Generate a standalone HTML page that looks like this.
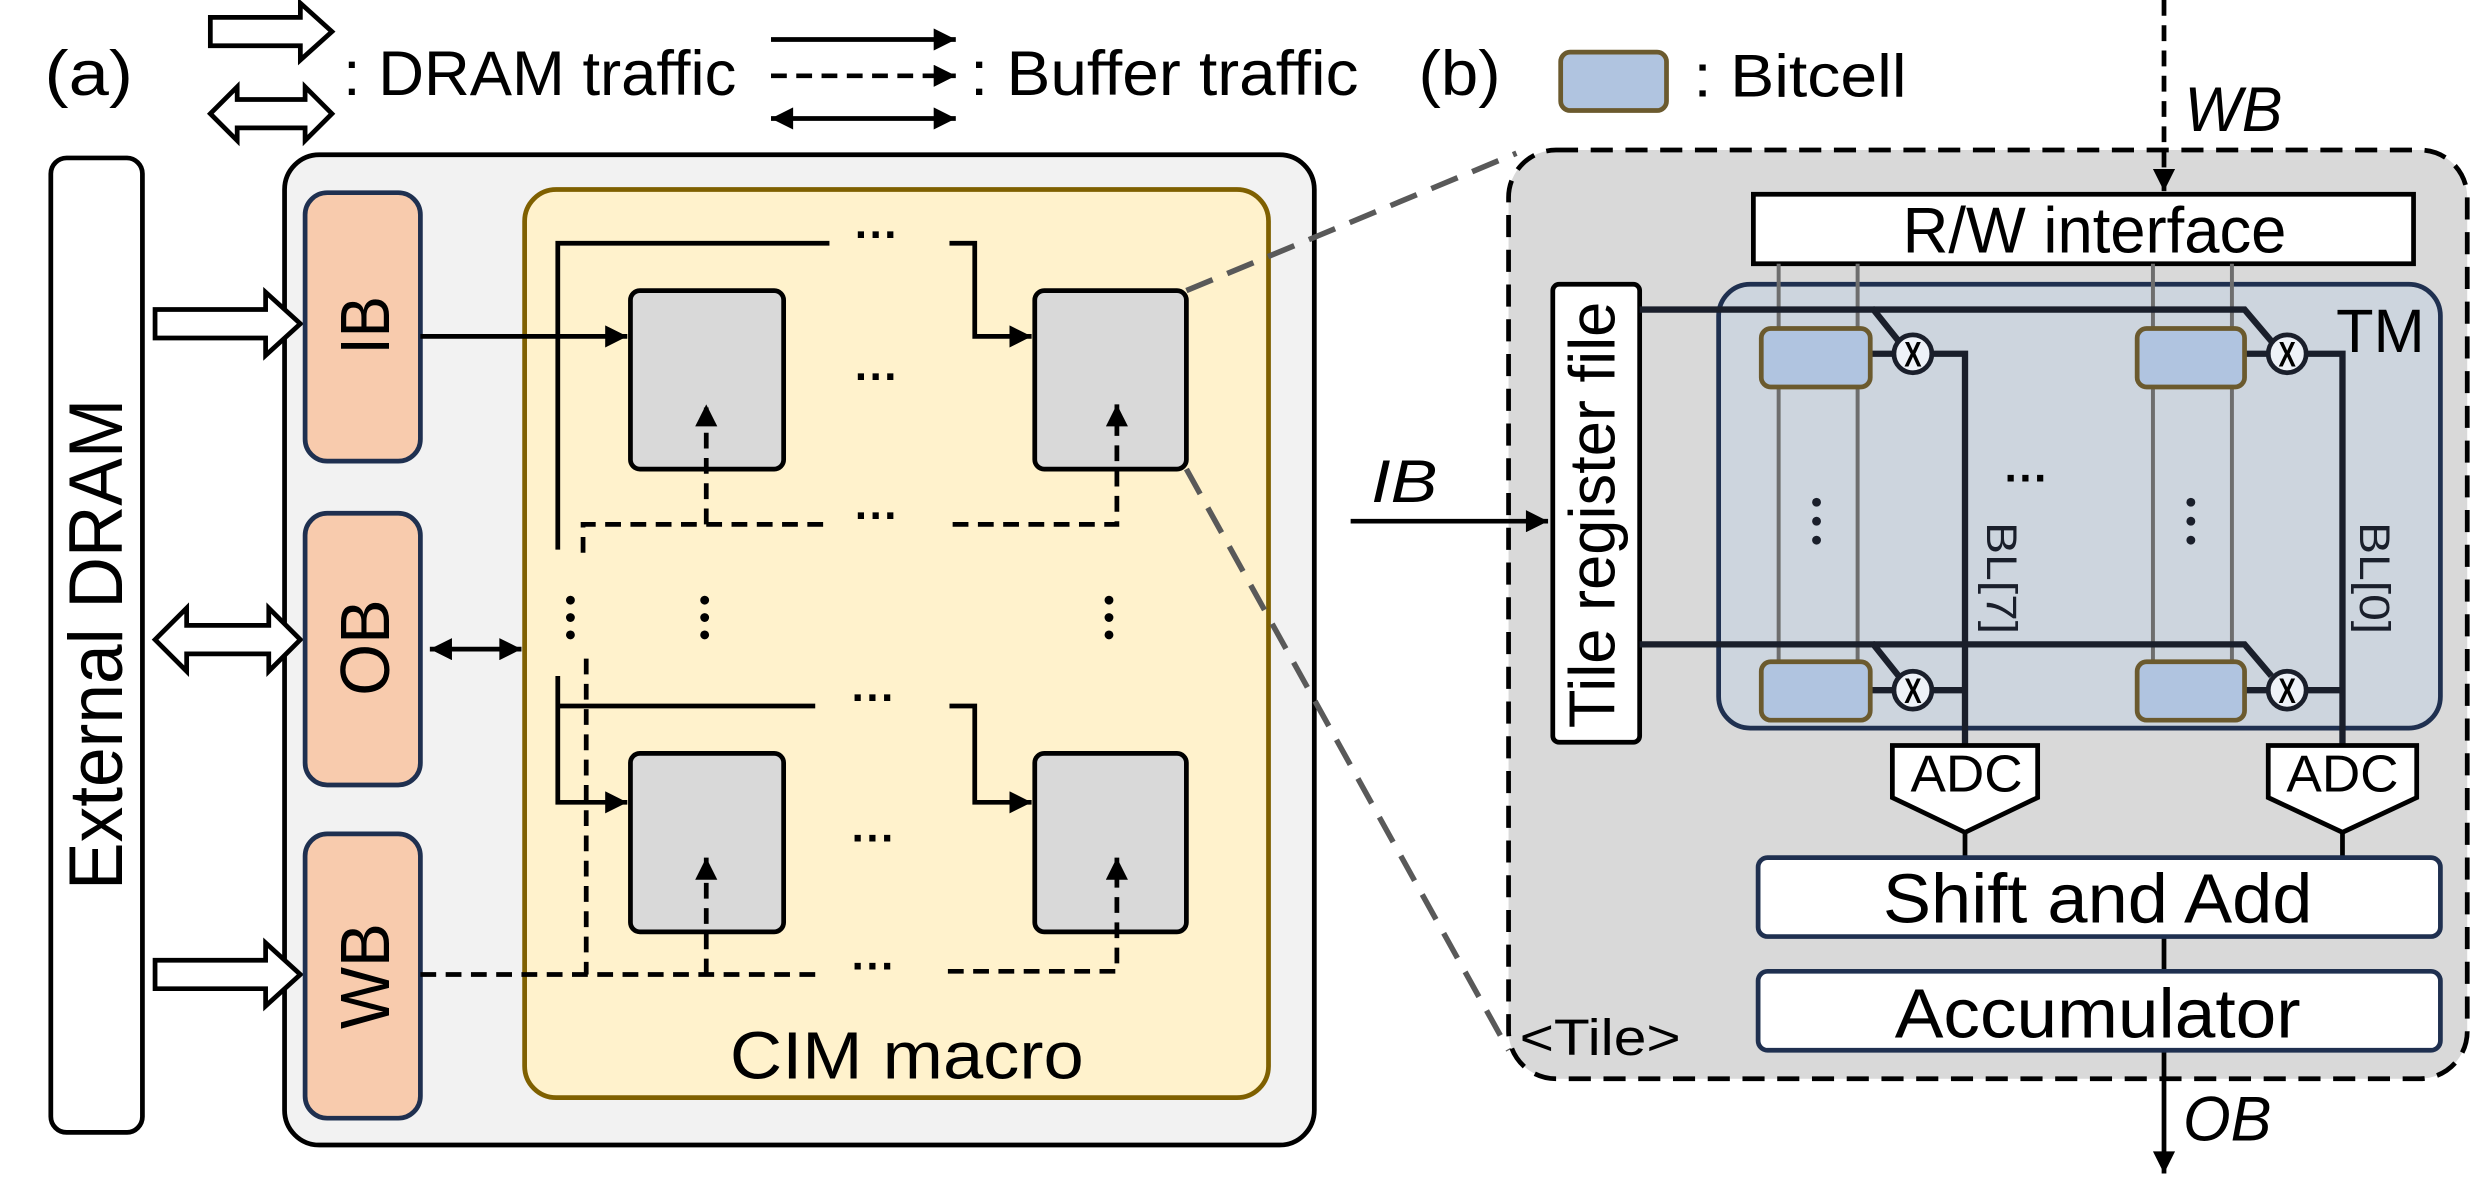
<!DOCTYPE html>
<html><head><meta charset="utf-8"><style>html,body{margin:0;padding:0;background:#fff}svg{display:block}</style></head>
<body>
<svg width="2477" height="1194" viewBox="0 0 1568 756" xmlns="http://www.w3.org/2000/svg" font-family="Liberation Sans, sans-serif">
<defs>
<marker id="ah" viewBox="0 0 10 10" refX="10" refY="5" markerWidth="16" markerHeight="14" markerUnits="userSpaceOnUse" orient="auto-start-reverse"><path d="M0,0 L10,5 L0,10 Z" fill="#000"/></marker>
</defs>
<rect width="1568" height="756" fill="#fff"/>
<text x="28" y="60" font-size="40" textLength="56" lengthAdjust="spacingAndGlyphs">(a)</text>
<g fill="#fff" stroke="#000" stroke-width="3">
<path d="M133,11 L190,11 L190,2 L210,20 L190,38 L190,29 L133,29Z"/>
<path d="M133,72 L150,55 L150,63 L193,63 L193,55 L210,72 L193,89 L193,81 L150,81 L150,89 Z"/>
</g>
<text x="217" y="60" font-size="40" textLength="249" lengthAdjust="spacingAndGlyphs">: DRAM traffic</text>
<g stroke="#000" stroke-width="3">
<line x1="488" y1="25" x2="605" y2="25" marker-end="url(#ah)"/>
<line x1="488" y1="48" x2="605" y2="48" stroke-dasharray="10,6" marker-end="url(#ah)"/>
<line x1="488" y1="75" x2="605" y2="75" marker-start="url(#ah)" marker-end="url(#ah)"/>
</g>
<text x="614" y="60" font-size="40" textLength="246" lengthAdjust="spacingAndGlyphs">: Buffer traffic</text>
<text x="898" y="60" font-size="40" textLength="52" lengthAdjust="spacingAndGlyphs">(b)</text>
<rect x="988" y="33" width="67" height="37" rx="6" fill="#b0c4e0" stroke="#6b5a2e" stroke-width="3"/>
<text x="1072" y="61" font-size="38" textLength="135" lengthAdjust="spacingAndGlyphs">: Bitcell</text>

<rect x="32" y="100" width="58" height="617" rx="10" fill="#fff" stroke="#000" stroke-width="3"/>
<text transform="translate(77,408) rotate(-90)" text-anchor="middle" font-size="48" textLength="311" lengthAdjust="spacingAndGlyphs">External DRAM</text>

<rect x="180" y="98" width="652" height="627" rx="22" fill="#f2f2f2" stroke="#000" stroke-width="3"/>
<g fill="#fff" stroke="#000" stroke-width="3">
<path d="M98,196 L168,196 L168,185 L190,205 L168,225 L168,214 L98,214Z"/>
<path d="M98,405 L118,385 L118,396 L170,396 L170,385 L190,405 L170,425 L170,414 L118,414 L118,425Z"/>
<path d="M98,608 L168,608 L168,597 L190,617 L168,637 L168,626 L98,626Z"/>
</g>
<g fill="#f8cbad" stroke="#1f3050" stroke-width="3">
<rect x="193" y="122" width="73" height="170" rx="14"/>
<rect x="193" y="325" width="73" height="172" rx="14"/>
<rect x="193" y="528" width="73" height="180" rx="14"/>
</g>
<g font-size="44" text-anchor="middle">
<text transform="translate(246,206) rotate(-90)" textLength="37" lengthAdjust="spacingAndGlyphs">IB</text>
<text transform="translate(246,410) rotate(-90)" textLength="61" lengthAdjust="spacingAndGlyphs">OB</text>
<text transform="translate(246,618) rotate(-90)" textLength="67" lengthAdjust="spacingAndGlyphs">WB</text>
</g>

<rect x="332" y="120" width="471" height="575" rx="20" fill="#fff2cc" stroke="#7f6000" stroke-width="3"/>
<text x="574" y="683" font-size="42" text-anchor="middle" textLength="224" lengthAdjust="spacingAndGlyphs">CIM macro</text>
<g fill="#d9d9d9" stroke="#000" stroke-width="3">
<rect x="399" y="184" width="97" height="113" rx="6"/>
<rect x="655" y="184" width="96" height="113" rx="6"/>
<rect x="399" y="477" width="97" height="113" rx="6"/>
<rect x="655" y="477" width="96" height="113" rx="6"/>
</g>
<g stroke="#000" stroke-width="3" fill="none">
<line x1="266" y1="213" x2="397" y2="213" marker-end="url(#ah)"/>
<polyline points="353,348 353,154 525,154"/>
<polyline points="601,154 617,154 617,213 653,213" marker-end="url(#ah)"/>
<polyline points="353,428 353,508 397,508" marker-end="url(#ah)"/>
<line x1="353" y1="447" x2="516" y2="447"/>
<polyline points="601,447 617,447 617,508 653,508" marker-end="url(#ah)"/>
<line x1="272" y1="411" x2="330" y2="411" marker-start="url(#ah)" marker-end="url(#ah)"/>
</g>
<g stroke="#000" stroke-width="3" fill="none" stroke-dasharray="10,6">
<polyline points="369,350 369,332 526,332"/>
<polyline points="447,332 447,256" marker-end="url(#ah)"/>
<polyline points="603,332 707,332 707,256" marker-end="url(#ah)"/>
<polyline points="371,417 371,617"/>
<line x1="266" y1="617" x2="522" y2="617"/>
<polyline points="447,617 447,543" marker-end="url(#ah)"/>
<polyline points="600,615 707,615 707,543" marker-end="url(#ah)"/>
</g>
<g font-size="28" font-weight="bold" text-anchor="middle">
<text x="555" y="158">···</text><text x="555" y="248">···</text>
<text x="555" y="336">···</text><text x="553" y="451">···</text>
<text x="553" y="540">···</text><text x="553" y="621">···</text>
</g>
<g fill="#000">
<circle cx="361" cy="380" r="2.8"/><circle cx="361" cy="391" r="2.8"/><circle cx="361" cy="402" r="2.8"/>
<circle cx="446" cy="380" r="2.8"/><circle cx="446" cy="391" r="2.8"/><circle cx="446" cy="402" r="2.8"/>
<circle cx="702" cy="380" r="2.8"/><circle cx="702" cy="391" r="2.8"/><circle cx="702" cy="402" r="2.8"/>
</g>
<g stroke="#595959" stroke-width="3.5" stroke-dasharray="18,10" fill="none">
<line x1="751" y1="184" x2="960" y2="97"/>
<line x1="751" y1="297" x2="955" y2="665"/>
</g>

<rect x="955" y="95" width="607" height="588" rx="30" fill="#d9d9d9" stroke="#000" stroke-width="3" stroke-dasharray="14,8"/>
<text x="962" y="668" font-size="32" textLength="102" lengthAdjust="spacingAndGlyphs">&lt;Tile&gt;</text>
<line x1="1370" y1="0" x2="1370" y2="121" stroke="#000" stroke-width="3" stroke-dasharray="10,6" marker-end="url(#ah)"/>
<text x="1383" y="83" font-size="40" font-style="italic" textLength="62" lengthAdjust="spacingAndGlyphs">WB</text>
<rect x="1110" y="123" width="418" height="44" fill="#fff" stroke="#000" stroke-width="3"/>
<text x="1326" y="160" font-size="41" text-anchor="middle" textLength="243" lengthAdjust="spacingAndGlyphs">R/W interface</text>
<line x1="855" y1="330" x2="980" y2="330" stroke="#000" stroke-width="3" marker-end="url(#ah)"/>
<text x="868" y="318" font-size="38" font-style="italic" textLength="42" lengthAdjust="spacingAndGlyphs">IB</text>
<rect x="1088" y="180" width="457" height="281" rx="20" fill="#cdd5de" stroke="#1f3050" stroke-width="3"/>
<text x="1479" y="223" font-size="39" textLength="56" lengthAdjust="spacingAndGlyphs">TM</text>
<g stroke="#6e6e6e" stroke-width="2.5">
<line x1="1126" y1="167" x2="1126" y2="456"/><line x1="1176" y1="167" x2="1176" y2="456"/>
<line x1="1363" y1="167" x2="1363" y2="456"/><line x1="1413" y1="167" x2="1413" y2="456"/>
</g>
<rect x="983" y="180" width="55" height="290" rx="4" fill="#fff" stroke="#000" stroke-width="3"/>
<text transform="translate(1022,326) rotate(-90)" font-size="41" text-anchor="middle" textLength="270" lengthAdjust="spacingAndGlyphs">Tile register file</text>
<g stroke="#1a1f2b" stroke-width="4" fill="none">
<polyline points="1038,196 1186,196 1202,216"/>
<polyline points="1186,196 1421,196 1438,216"/>
<polyline points="1038,408 1186,408 1202,428"/>
<polyline points="1186,408 1421,408 1438,428"/>
<line x1="1184" y1="224" x2="1200" y2="224"/><line x1="1421" y1="224" x2="1436" y2="224"/>
<line x1="1184" y1="437" x2="1200" y2="437"/><line x1="1421" y1="437" x2="1436" y2="437"/>
<polyline points="1222,224 1244,224 1244,472"/><line x1="1222" y1="437" x2="1244" y2="437"/>
<polyline points="1460,224 1483,224 1483,472"/><line x1="1460" y1="437" x2="1483" y2="437"/>
</g>
<g fill="#b0c4e0" stroke="#6b5a2e" stroke-width="3">
<rect x="1115" y="208" width="69" height="37" rx="6"/><rect x="1353" y="208" width="68" height="37" rx="6"/>
<rect x="1115" y="419" width="69" height="37" rx="6"/><rect x="1353" y="419" width="68" height="37" rx="6"/>
</g>
<g fill="#eef2f8" stroke="#1a1f2b" stroke-width="3">
<circle cx="1211" cy="224" r="12"/><circle cx="1448" cy="224" r="12"/>
<circle cx="1211" cy="437" r="12"/><circle cx="1448" cy="437" r="12"/>
</g>
<g font-size="22" font-weight="bold" text-anchor="middle">
<text x="1211" y="232" textLength="11" lengthAdjust="spacingAndGlyphs">X</text><text x="1448" y="232" textLength="11" lengthAdjust="spacingAndGlyphs">X</text>
<text x="1211" y="445" textLength="11" lengthAdjust="spacingAndGlyphs">X</text><text x="1448" y="445" textLength="11" lengthAdjust="spacingAndGlyphs">X</text>
</g>
<text x="1283" y="312" font-size="28" font-weight="bold" text-anchor="middle">···</text>
<g fill="#1a1f2b">
<circle cx="1150" cy="318" r="2.8"/><circle cx="1150" cy="330" r="2.8"/><circle cx="1150" cy="342" r="2.8"/>
<circle cx="1387" cy="318" r="2.8"/><circle cx="1387" cy="330" r="2.8"/><circle cx="1387" cy="342" r="2.8"/>
</g>
<g font-size="27" fill="#1a1f2b" text-anchor="middle">
<text transform="translate(1258,366) rotate(90)" textLength="71" lengthAdjust="spacingAndGlyphs">BL[7]</text>
<text transform="translate(1494,366) rotate(90)" textLength="71" lengthAdjust="spacingAndGlyphs">BL[0]</text>
</g>
<g fill="#fff" stroke="#000" stroke-width="3">
<path d="M1198,472 L1290,472 L1290,505 L1244,527 L1198,505Z"/>
<path d="M1436,472 L1530,472 L1530,505 L1483,527 L1436,505Z"/>
</g>
<g font-size="33" text-anchor="middle"><text x="1245" y="501" textLength="71" lengthAdjust="spacingAndGlyphs">ADC</text><text x="1483" y="501" textLength="71" lengthAdjust="spacingAndGlyphs">ADC</text></g>
<g stroke="#000" stroke-width="3">
<line x1="1244" y1="527" x2="1244" y2="543"/><line x1="1483" y1="527" x2="1483" y2="543"/>
<line x1="1370" y1="593" x2="1370" y2="615"/>
<line x1="1370" y1="665" x2="1370" y2="743" marker-end="url(#ah)"/>
</g>
<rect x="1113" y="543" width="432" height="50" rx="6" fill="#fff" stroke="#1f3050" stroke-width="3"/>
<text x="1328" y="584" font-size="44" text-anchor="middle" textLength="272" lengthAdjust="spacingAndGlyphs">Shift and Add</text>
<rect x="1113" y="615" width="432" height="50" rx="6" fill="#fff" stroke="#1f3050" stroke-width="3"/>
<text x="1328" y="657" font-size="44" text-anchor="middle" textLength="257" lengthAdjust="spacingAndGlyphs">Accumulator</text>
<text x="1382" y="722" font-size="40" font-style="italic" textLength="56" lengthAdjust="spacingAndGlyphs">OB</text>
</svg>
</body></html>
